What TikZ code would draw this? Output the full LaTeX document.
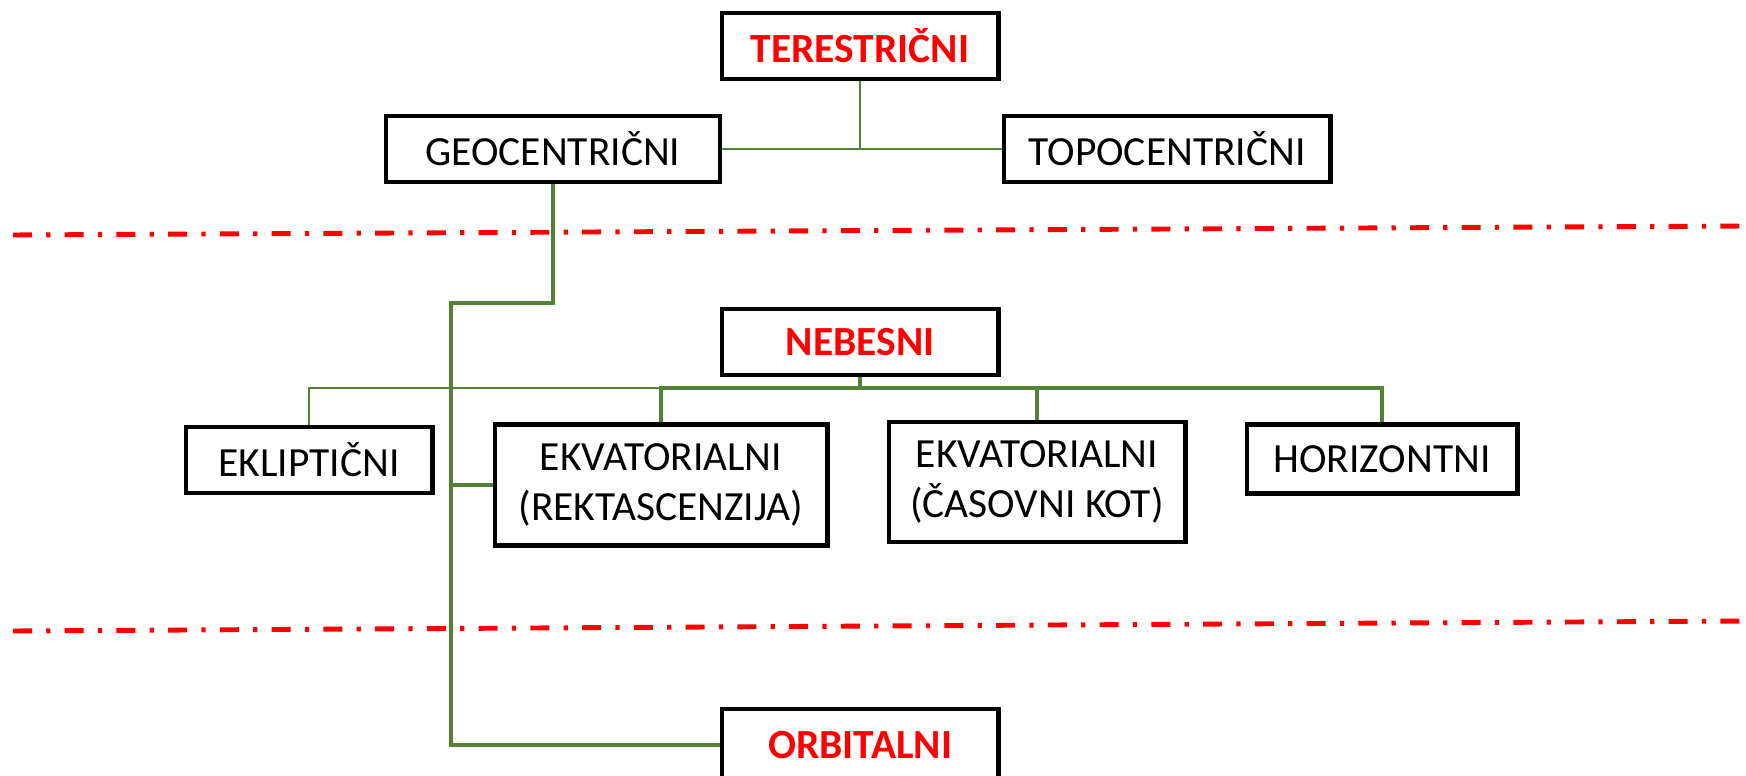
\documentclass[tikz,border=0pt]{standalone}
\usepackage{fontspec}
\setmainfont{Carlito}
\definecolor{linegreen}{RGB}{84,130,53}
\begin{document}
\begin{tikzpicture}[x=0.02cm,y=-0.02cm]
	\tikzstyle{box}=[draw=black,line width=2.3pt,fill=white,minimum height=1.32cm,inner sep=0pt,align=center,font=\fontsize{23.6}{28.8}\selectfont]
	\tikzstyle{head box}=[box,text=red,font=\fontsize{23.6}{28.8}\selectfont\bfseries]
	\tikzstyle{link}=[draw=linegreen,line width=1.4pt]
	\tikzstyle{thick link}=[link,line width=2.3pt]
	\tikzstyle{border}=[draw=red,line width=2.8pt,dash pattern=on 0.38cm off 0.285cm on 0.085cm off 0.285cm]
	
	\useasboundingbox (0,0) rectangle (1746,776);
	
	% Draw the separators between the groups
	\draw[border] (13,235) -- (1746,226);
	\draw[border] (13,631) -- (1746,621);
	
	% Terrestrial systems
	\node[head box,minimum width=5.54cm] (ter) at (860,46) {TERESTRIČNI};
	\node[box,minimum width=6.7cm] (geo) at (553,149) {GEOCENTRIČNI};
	\node[box,minimum width=6.54cm] (topo) at (1167,149) {TOPOCENTRIČNI};
	
	% Celestial systems
	\node[head box,minimum width=5.54cm] (neb) at (860,342) {NEBESNI};
	\node[box,minimum width=4.94cm] (ekl) at (309,460) {EKLIPTIČNI};
	\node[box,minimum width=6.66cm,minimum height=2.42cm] (ekv1) at (661,485) {EKVATORIALNI\\(REKTASCENZIJA)};
	\node[box,minimum width=5.94cm,minimum height=2.4cm] (ekv2) at (1037,482) {EKVATORIALNI\\(ČASOVNI KOT)};
	\node[box,minimum width=5.42cm,minimum height=1.38cm] (hor) at (1382,459) {HORIZONTNI};
	
	% Orbital system (cut off at the bottom edge)
	\node[head box,minimum width=5.54cm,minimum height=1.44cm] (orb) at (860,745) {ORBITALNI};
	
	% Connect the terrestrial boxes
	\draw[link] (ter.south) -- (ter.south |- geo.east);
	\draw[link] (geo.east) -- (topo.west);
	
	% Geocentric down to the equatorial and orbital boxes
	\coordinate (knee) at (451,303);
	\draw[thick link] (geo.south) |- (knee) -- (knee |- orb.west) -- (orb.west);
	\draw[thick link] (knee |- ekv1.west) -- (ekv1.west);
	
	% Connect the celestial boxes
	\coordinate (bus) at (860,388);
	\foreach \dest/\lw in {hor/1.9pt,ekv2/2.3pt,ekv1/1.8pt,ekl/1.4pt}
	\draw[link,line width=\lw] (neb.south) -- (bus) -| (\dest.north);
\end{tikzpicture}
\end{document}
